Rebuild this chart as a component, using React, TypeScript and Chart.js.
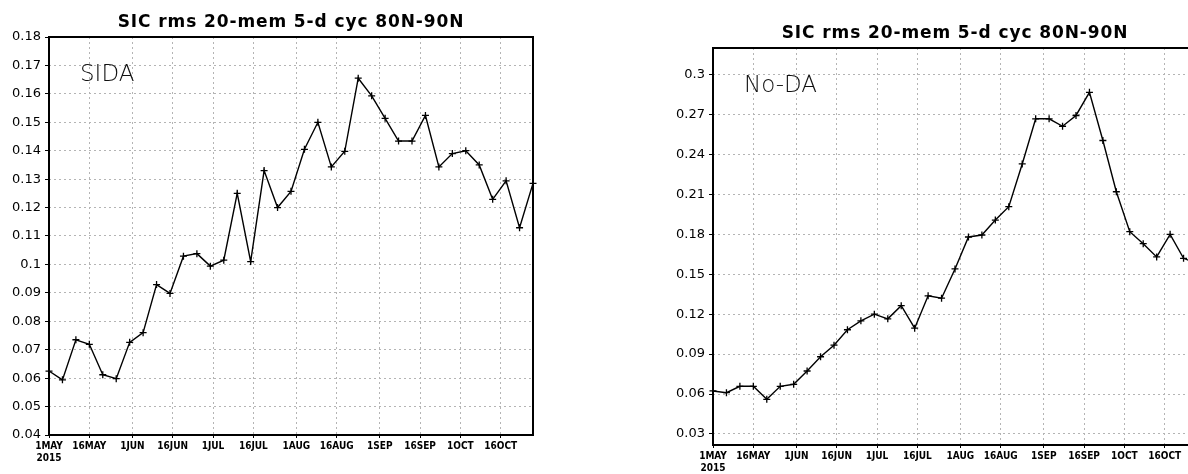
import React, { useEffect, useRef } from "react";
import { Chart, registerables } from "chart.js";

Chart.register(...registerables);

// 5-day cycles, days after 1 May 2015
const cycleDays = [0, 5, 10, 15, 20, 25, 30, 35, 40, 45, 50, 55, 60, 65, 70, 75, 80, 85, 90, 95, 100, 105, 110, 115, 120, 125, 130, 135, 140, 145, 150, 155, 160, 165, 170, 175, 180];

const sidaRms = [
  0.0625, 0.0594, 0.0735, 0.0719, 0.0612, 0.0598, 0.0726, 0.076, 0.0929, 0.0898,
  0.1029, 0.1038, 0.0994, 0.1015, 0.125, 0.101, 0.133, 0.12, 0.1257, 0.1405,
  0.150, 0.1343, 0.1398, 0.1655, 0.1593, 0.1514, 0.1434, 0.1434, 0.1524, 0.1343,
  0.139, 0.140, 0.135, 0.1229, 0.1294, 0.1129, 0.1285,
];

const noDaRms = [
  0.0623, 0.061, 0.0658, 0.0658, 0.056, 0.0658, 0.0673, 0.0773, 0.088, 0.0967,
  0.1083, 0.115, 0.12, 0.1165, 0.1264, 0.1095, 0.1338, 0.132, 0.154, 0.178,
  0.1795, 0.1907, 0.2008, 0.2329, 0.2668, 0.2668, 0.2612, 0.2693, 0.2867, 0.2505,
  0.212, 0.182, 0.173, 0.163, 0.180, 0.162, 0.158,
];

const xTickDays = [0, 15, 31, 46, 61, 76, 92, 107, 123, 138, 153, 168];
const xTickLabels: (string | string[])[] = [
  ["1MAY", "2015"], "16MAY", "1JUN", "16JUN", "1JUL", "16JUL",
  "1AUG", "16AUG", "1SEP", "16SEP", "1OCT", "16OCT",
];

const sidaYTicks = [0.04, 0.05, 0.06, 0.07, 0.08, 0.09, 0.1, 0.11, 0.12, 0.13, 0.14, 0.15, 0.16, 0.17, 0.18];
const noDaYTicks = [0.03, 0.06, 0.09, 0.12, 0.15, 0.18, 0.21, 0.24, 0.27, 0.3];

const titleText = "SIC rms 20-mem 5-d cyc 80N-90N";

const framePlugin = {
  id: "frame",
  afterDraw(chart: any, _args: any, opts: any) {
    const { ctx, chartArea: a } = chart;
    ctx.save();
    ctx.strokeStyle = "#000";
    ctx.lineWidth = 2;
    ctx.strokeRect(a.left, a.top, a.right - a.left, a.bottom - a.top);
    ctx.fillStyle = "#000";
    ctx.font = 'bold 17px "DejaVu Sans", sans-serif';
    try { (ctx as any).letterSpacing = "0.9px"; } catch (e) {}
    ctx.textAlign = "center";
    ctx.textBaseline = "alphabetic";
    ctx.fillText(opts.title, (a.left + a.right) / 2, a.top - 10);
    try { (ctx as any).letterSpacing = "0px"; } catch (e) {}
    ctx.font = '300 23px "DejaVu Sans", sans-serif';
    ctx.fillStyle = "#111";
    ctx.textAlign = "left";
    ctx.fillText(opts.label, a.left + 31, a.top + 44);
    ctx.restore();
  },
};

type PanelProps = {
  left: number;
  width: number;
  yAxisWidth: number;
  padTop: number;
  padRight: number;
  xAxisHeight: number;
  yMin: number;
  yMax: number;
  yTicks: number[];
  values: number[];
  label: string;
};

function Panel(p: PanelProps) {
  const ref = useRef<HTMLCanvasElement | null>(null);
  useEffect(() => {
    if (!ref.current) return;
    const chart = new Chart(ref.current, {
      type: "line",
      data: {
        datasets: [
          {
            data: cycleDays.map((d, i) => ({ x: d, y: p.values[i] })),
            borderColor: "#000",
            borderWidth: 1.4,
            tension: 0,
            pointStyle: "cross",
            pointRadius: 3.5,
            pointBorderWidth: 1.3,
            pointBorderColor: "#000",
            pointBackgroundColor: "#000",
            clip: false as any,
          },
        ],
      },
      options: {
        animation: false,
        responsive: false,
        devicePixelRatio: 1,
        layout: { padding: { top: p.padTop, right: p.padRight, left: 0, bottom: 0 } },
        plugins: {
          legend: { display: false },
          tooltip: { enabled: false },
          title: { display: false },
          frame: { title: titleText, label: p.label },
        } as any,
        scales: {
          x: {
            type: "linear",
            min: 0,
            max: 180,
            afterFit: (s: any) => { s.height = p.xAxisHeight; },
            afterBuildTicks: (s: any) => { s.ticks = xTickDays.map((v) => ({ value: v })); },
            ticks: {
              autoSkip: false,
              maxRotation: 0,
              padding: 3,
              color: "#000",
              font: { family: '"DejaVu Sans Condensed", "Liberation Sans Narrow", "DejaVu Sans", sans-serif', size: 10, weight: "bold", lineHeight: 1.15 },
              callback: (_v: any, i: number) => xTickLabels[i],
            },
            grid: {
              color: "#b4b4b4",
              lineWidth: 1,
              drawTicks: true,
              tickLength: 3,
              tickColor: "#000",
              tickBorderDash: [],
            } as any,
            border: { display: false, dash: [2, 3] },
          },
          y: {
            type: "linear",
            min: p.yMin,
            max: p.yMax,
            afterFit: (s: any) => { s.width = p.yAxisWidth; },
            afterBuildTicks: (s: any) => { s.ticks = p.yTicks.map((v) => ({ value: v })); },
            ticks: {
              autoSkip: false,
              padding: 4,
              color: "#000",
              font: { family: '"DejaVu Sans", sans-serif', size: 13 },
              callback: (v: any) => String(Number(Number(v).toFixed(3))),
            },
            grid: {
              color: "#b4b4b4",
              lineWidth: 1,
              drawTicks: true,
              tickLength: 4,
              tickColor: "#000",
              tickBorderDash: [],
            } as any,
            border: { display: false, dash: [2, 3] },
          },
        },
      },
      plugins: [framePlugin as any],
    });
    return () => chart.destroy();
  }, []);
  return (
    <canvas
      ref={ref}
      width={p.width}
      height={474}
      style={{ position: "absolute", left: p.left, top: 0, width: p.width, height: 474 }}
    />
  );
}

export default function App() {
  return (
    <div
      style={{
        position: "fixed",
        left: 0,
        top: 0,
        width: 1188,
        height: 474,
        overflow: "hidden",
        background: "#fff",
      }}
    >
      <Panel
        left={0}
        width={545}
        yAxisWidth={49}
        padTop={37}
        padRight={12}
        xAxisHeight={39}
        yMin={0.04}
        yMax={0.18}
        yTicks={sidaYTicks}
        values={sidaRms}
        label="SIDA"
      />
      <Panel
        left={660}
        width={550}
        yAxisWidth={53}
        padTop={48}
        padRight={13}
        xAxisHeight={29}
        yMin={0.0217}
        yMax={0.32}
        yTicks={noDaYTicks}
        values={noDaRms}
        label="No-DA"
      />
    </div>
  );
}
